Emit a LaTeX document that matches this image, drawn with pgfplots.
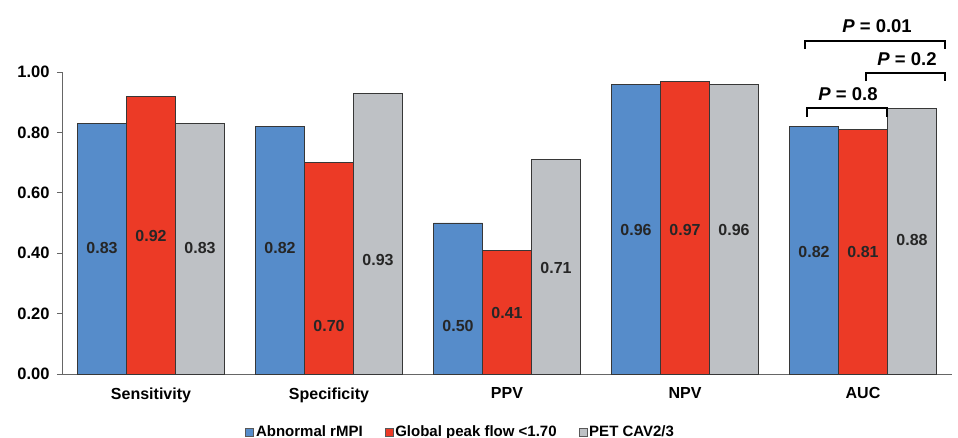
\documentclass[border=0pt]{standalone}
\usepackage{fontspec}
\setmainfont{Liberation Sans}
\usepackage{pgfplots}
\pgfplotsset{compat=1.18}
\definecolor{cblue}{RGB}{86,140,202}
\definecolor{cred}{RGB}{236,58,38}
\definecolor{cgray}{RGB}{190,193,197}
\definecolor{cedge}{RGB}{55,55,55}
\begin{document}
\begin{tikzpicture}
\begin{axis}[
  scale only axis,
  width=890pt, height=302pt,
  xmin=-0.5, xmax=4.5,
  ymin=0, ymax=1,
  clip=false,
  ybar=0pt, bar width=49pt,
  axis x line*=bottom, axis y line*=left,
  axis line style={draw=gray!80!black, line width=0.8pt},
  xtick={0,1,2,3,4},
  xticklabels={Sensitivity,Specificity,PPV,NPV,AUC},
  x tick style={draw=none},
  x tick label style={font=\fontsize{16}{18}\selectfont\bfseries, yshift=-5pt},
  ytick={0,0.2,0.4,0.6,0.8,1.0},
  y tick style={draw=gray!80!black, line width=0.8pt},
  major tick length=5pt,
  tick align=outside,
  y tick label style={font=\fontsize{16.5}{18}\selectfont\bfseries, xshift=-4pt},
  /pgf/number format/assume math mode=true,
  /pgf/number format/.cd, fixed, fixed zerofill, precision=2, /pgfplots/.cd,
  legend columns=3,
  legend style={at={(axis description cs:0.448,-0.192)}, anchor=center, draw=none, fill=none,
    font=\fontsize{15}{17}\selectfont\bfseries,
    /tikz/every even column/.append style={column sep=20pt}},
  legend image code/.code={\draw[#1, draw=gray!70!black, line width=0.6pt] (0pt,-4pt) rectangle (8pt,4pt);},
  every axis plot/.append style={draw=cedge, line width=0.8pt},
]
\addplot[fill=cblue] coordinates {(0,0.83) (1,0.82) (2,0.50) (3,0.96) (4,0.82)};
\addplot[fill=cred] coordinates {(0,0.92) (1,0.70) (2,0.41) (3,0.97) (4,0.81)};
\addplot[fill=cgray] coordinates {(0,0.83) (1,0.93) (2,0.71) (3,0.96) (4,0.88)};
\legend{Abnormal rMPI,Global peak flow <1.70,PET CAV2/3}

\tikzset{vl/.style={font=\fontsize{16}{18}\selectfont\bfseries, text=black!85}}
\def\o{0.2753}
% Sensitivity
\node[vl] at (axis cs:-\o,0.417) {0.83};
\node[vl] at (axis cs:0,0.457) {0.92};
\node[vl] at (axis cs:\o,0.417) {0.83};
% Specificity
\node[vl] at (axis cs:1-\o,0.417) {0.82};
\node[vl] at (axis cs:1,0.159) {0.70};
\node[vl] at (axis cs:1+\o,0.377) {0.93};
% PPV
\node[vl] at (axis cs:2-\o,0.159) {0.50};
\node[vl] at (axis cs:2,0.202) {0.41};
\node[vl] at (axis cs:2+\o,0.351) {0.71};
% NPV
\node[vl] at (axis cs:3-\o,0.477) {0.96};
\node[vl] at (axis cs:3,0.477) {0.97};
\node[vl] at (axis cs:3+\o,0.477) {0.96};
% AUC
\node[vl] at (axis cs:4-\o,0.404) {0.82};
\node[vl] at (axis cs:4,0.404) {0.81};
\node[vl] at (axis cs:4+\o,0.444) {0.88};

% brackets
\draw[black, line width=2.2pt] (axis cs:3.685,0.851) -- (axis cs:3.685,0.881) -- (axis cs:4.135,0.881) -- (axis cs:4.135,0.851);
\draw[black, line width=2.2pt] (axis cs:4.017,0.970) -- (axis cs:4.017,0.997) -- (axis cs:4.461,0.997) -- (axis cs:4.461,0.970);
\draw[black, line width=2.2pt] (axis cs:3.674,1.076) -- (axis cs:3.674,1.103) -- (axis cs:4.461,1.103) -- (axis cs:4.461,1.076);
\tikzset{pl/.style={font=\fontsize{18.5}{20}\selectfont\bfseries, text=black}}
\node[pl] at (axis cs:3.916,0.927) {\textit{P} = 0.8};
\node[pl] at (axis cs:4.247,1.043) {\textit{P} = 0.2};
\node[pl] at (axis cs:4.079,1.152) {\textit{P} = 0.01};
\end{axis}
\pgfresetboundingbox
\path ([shift={(-62pt,-64pt)}]current axis.south west) rectangle ([shift={(6pt,72pt)}]current axis.north east);
\end{tikzpicture}
\end{document}
